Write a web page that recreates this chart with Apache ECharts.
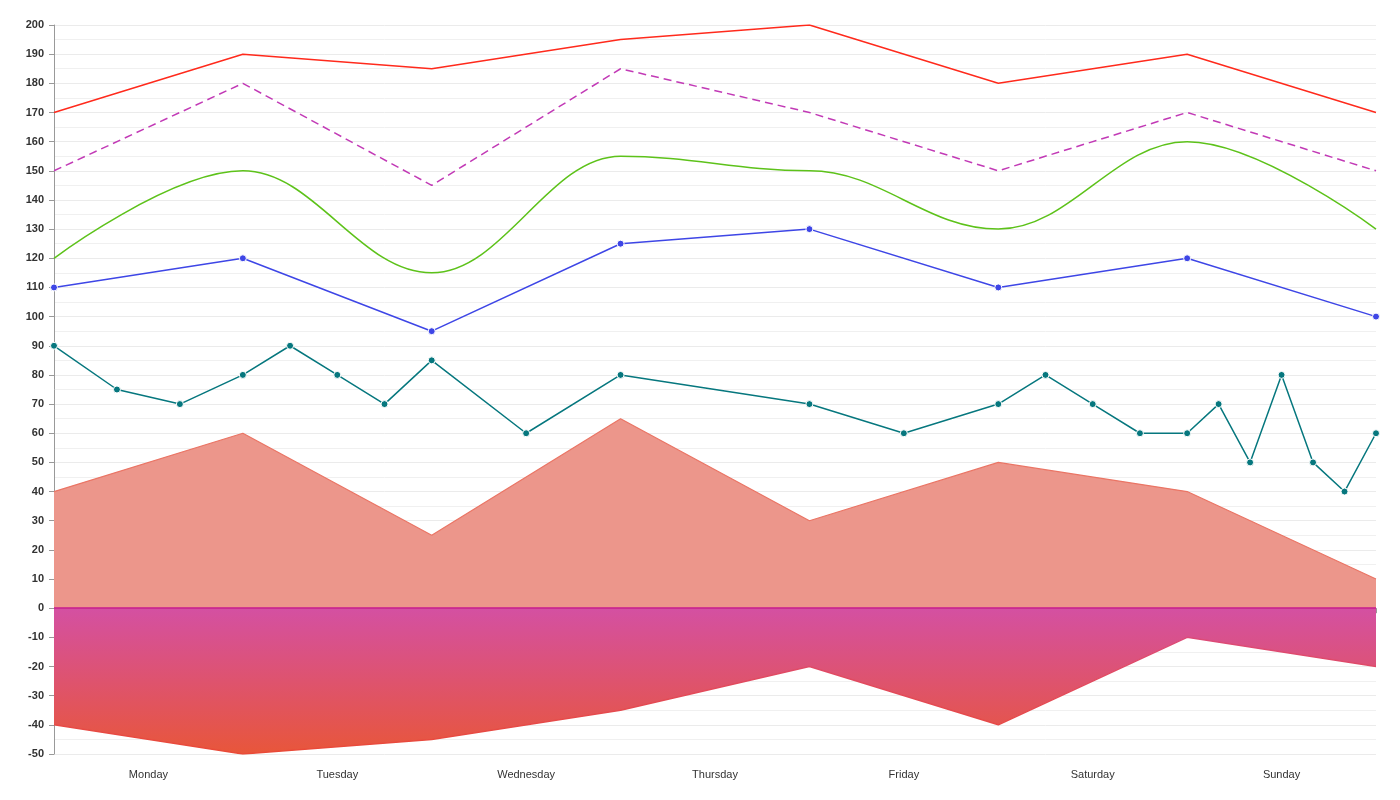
<!DOCTYPE html>
<html>
<head>
<meta charset="utf-8">
<script src="https://cdn.jsdelivr.net/npm/echarts@6/dist/echarts.min.js"></script>
<style>
html,body{margin:0;padding:0;background:#fff;}
#chart{width:1400px;height:800px;}
</style>
</head>
<body>
<div id="chart"></div>
<script>
// Categories (labels between ticks)
const days = ['Monday', 'Tuesday', 'Wednesday', 'Thursday', 'Friday', 'Saturday', 'Sunday'];
// Boundary positions (in day units) for the 8-point series
const boundaryX = [0, 1, 2, 3, 4, 5, 6, 7];
const redValues = [170, 190, 185, 195, 200, 180, 190, 170];
const dashedValues = [150, 180, 145, 185, 170, 150, 170, 150];
const greenValues = [120, 150, 115, 155, 150, 130, 160, 130];
const blueValues = [110, 120, 95, 125, 130, 110, 120, 100];
const areaPosValues = [40, 60, 25, 65, 30, 50, 40, 10];
const areaNegValues = [-40, -50, -45, -35, -20, -40, -10, -20];
// Teal series with irregular x positions (day units)
const tealX = [0, 1/3, 2/3, 1, 1.25, 1.5, 1.75, 2, 2.5, 3, 4, 4.5, 5, 5.25, 5.5, 5.75, 6, 6 + 1/6, 6 + 1/3, 6.5, 6 + 2/3, 6 + 5/6, 7];
const tealValues = [90, 75, 70, 80, 90, 80, 70, 85, 60, 80, 70, 60, 70, 80, 70, 60, 60, 70, 50, 80, 50, 40, 60];
// Y axis
const yMin = -50, yMax = 200, yStep = 10;

function pairs(xs, ys) { return xs.map((x, i) => [x, ys[i]]); }

const chart = echarts.init(document.getElementById('chart'), null, {renderer: 'canvas'});
const labelStyle = {color: '#333', fontSize: 11, fontFamily: 'Liberation Sans, Arial, sans-serif'};

chart.setOption({
  animation: false,
  backgroundColor: '#fff',
  grid: {left: 54, right: 24, top: 25, bottom: 46, containLabel: false},
  xAxis: [
    {
      type: 'category', data: days, boundaryGap: true,
      axisLine: {show: true, lineStyle: {color: '#999'}},
      axisTick: {show: true, alignWithLabel: false, lineStyle: {color: '#999'}},
      axisLabel: Object.assign({margin: 15}, labelStyle),
      splitLine: {show: false}
    },
    {
      type: 'value', min: 0, max: 7, show: false,
      splitLine: {show: false}
    }
  ],
  yAxis: {
    type: 'value', min: yMin, max: yMax, interval: yStep,
    axisLine: {show: true, lineStyle: {color: '#999'}},
    axisTick: {show: true, length: 5, lineStyle: {color: '#999'}},
    axisLabel: Object.assign({margin: 10, fontWeight: 'bold'}, labelStyle),
    splitLine: {show: true, lineStyle: {color: '#ebebeb', width: 1}},
    minorTick: {show: false, splitNumber: 2},
    minorSplitLine: {show: true, lineStyle: {color: '#f0f0f0', width: 1}}
  },
  series: [
    {
      type: 'line', xAxisIndex: 1, data: pairs(boundaryX, areaPosValues),
      symbol: 'none', z: 1,
      lineStyle: {color: '#ea7565', width: 1.2},
      areaStyle: {color: '#ec968b', opacity: 1}
    },
    {
      type: 'line', xAxisIndex: 1, data: pairs(boundaryX, areaNegValues),
      symbol: 'none', z: 1,
      lineStyle: {width: 1.5, color: new echarts.graphic.LinearGradient(0, 0, 0, 1, [
        {offset: 0, color: '#dc4a7a'}, {offset: 1, color: '#ea4a35'}])},
      areaStyle: {opacity: 1, color: new echarts.graphic.LinearGradient(0, 0, 0, 1, [
        {offset: 0, color: '#d450a2'}, {offset: 1, color: '#e8563a'}])},
      markLine: {
        silent: true, symbol: 'none', label: {show: false},
        lineStyle: {color: '#c8198e', width: 1.5, type: 'solid'},
        data: [{yAxis: 0}]
      }
    },
    {
      type: 'line', xAxisIndex: 1, data: pairs(boundaryX, redValues),
      symbol: 'none', lineStyle: {color: '#ff2a1c', width: 1.5}
    },
    {
      type: 'line', xAxisIndex: 1, data: pairs(boundaryX, dashedValues),
      symbol: 'none', lineStyle: {color: '#c23ab6', width: 1.5, type: [8, 5]}
    },
    {
      type: 'line', xAxisIndex: 1, data: pairs(boundaryX, greenValues),
      symbol: 'none', smooth: 0.38, smoothMonotone: 'x', lineStyle: {color: '#5dc21a', width: 1.5}
    },
    {
      type: 'line', xAxisIndex: 1, data: pairs(boundaryX, blueValues),
      symbol: 'circle', symbolSize: 7,
      itemStyle: {color: '#3e46e6', borderColor: '#fff', borderWidth: 1},
      lineStyle: {color: '#3e46e6', width: 1.5}
    },
    {
      type: 'line', xAxisIndex: 1, data: pairs(tealX, tealValues),
      symbol: 'circle', symbolSize: 7,
      itemStyle: {color: '#06777e', borderColor: '#fff', borderWidth: 1},
      lineStyle: {color: '#06777e', width: 1.5}
    }
  ]
});
</script>
</body>
</html>
